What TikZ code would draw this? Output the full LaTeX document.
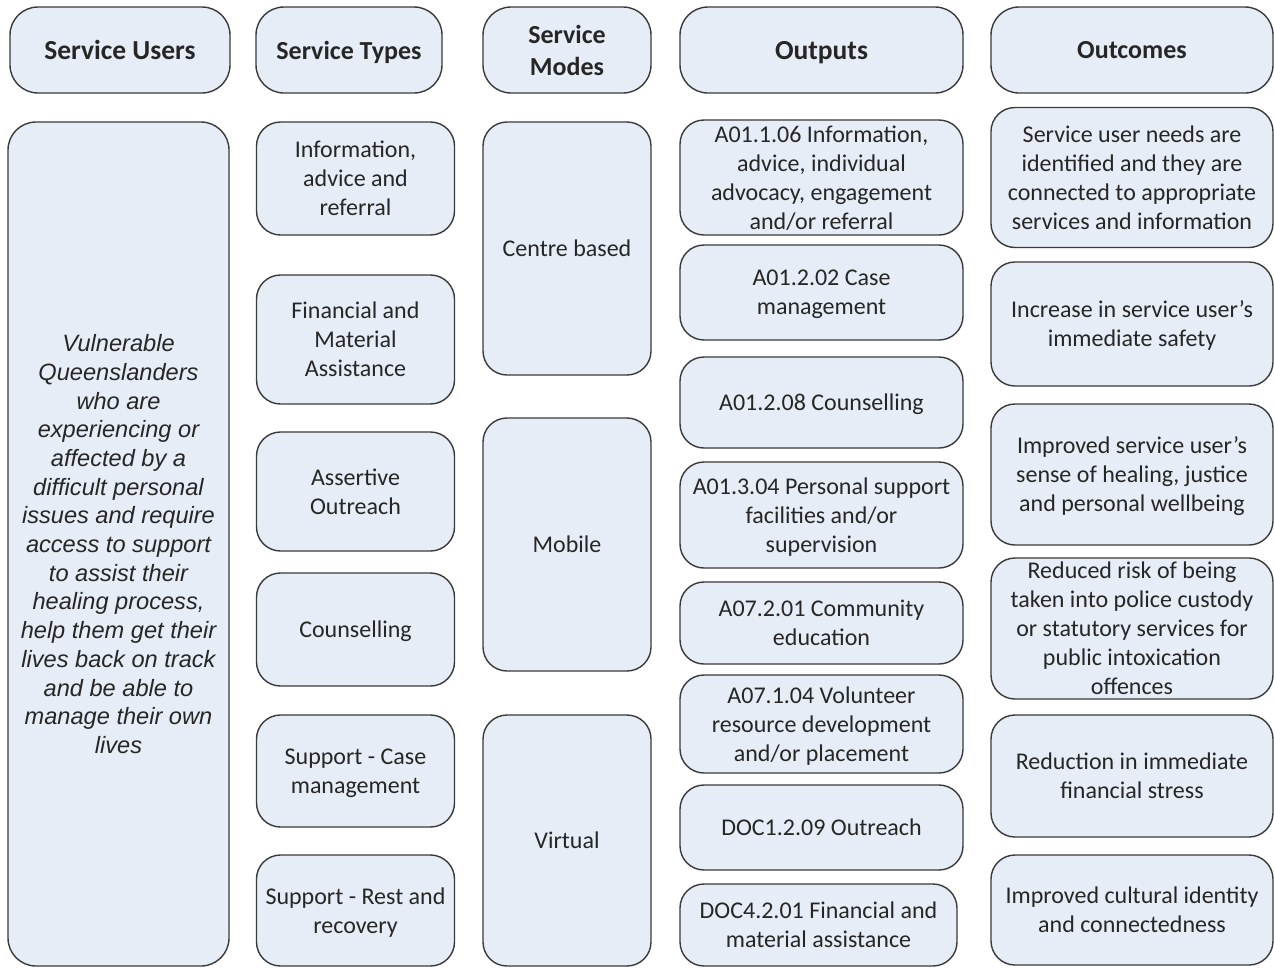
\documentclass[tikz,border=0pt]{standalone}
\usepackage{fontspec}
\setmainfont{Carlito}
\newfontfamily\arialfont{Liberation Sans}
\definecolor{boxfill}{RGB}{231,237,247}
\definecolor{boxline}{RGB}{58,58,58}
\definecolor{txt}{RGB}{38,38,38}
\begin{document}
\begin{tikzpicture}[x=1pt,y=-1pt,
  box/.style={draw=boxline, line width=1.4pt, fill=boxfill, rounded corners=24pt,
    align=center, text=txt, inner sep=0pt, text depth=0pt, font=\fontsize{24}{29}\selectfont},
  hbox/.style={box, rounded corners=28pt, font=\bfseries\fontsize{26}{32}\selectfont},
]
\useasboundingbox[fill=white] (0,0) rectangle (1274,967);
% headers
\node[hbox, minimum width=220, minimum height=86, font=\bfseries\fontsize{27.5}{32}\selectfont] (h1) at (120,50) {Service Users};
\node[hbox, minimum width=186, minimum height=86] (h2) at (349,50) {Service Types};
\node[hbox, minimum width=168, minimum height=86] (h3) at (567,50) {Service\\Modes};
\node[hbox, minimum width=283, minimum height=86, font=\bfseries\fontsize{27.5}{32}\selectfont] (h4) at (821.5,50) {Outputs};
\node[hbox, minimum width=282, minimum height=86] (h5) at (1132,50) {Outcomes};
% column 1
\node[box, rounded corners=28pt, minimum width=221, minimum height=844, font=\arialfont\itshape\fontsize{23.6}{28.7}\selectfont] (u1) at (118.5,544)
 {Vulnerable\\Queenslanders\\who are\\experiencing or\\affected by a\\difficult personal\\issues and require\\access to support\\to assist their\\healing process,\\help them get their\\lives back on track\\and be able to\\manage their own\\lives};
% column 2
\node[box, minimum width=198, minimum height=113] (t1) at (355.5,178.5) {Information,\\advice and\\referral};
\node[box, minimum width=198, minimum height=129] (t2) at (355.5,339.5) {Financial and\\Material\\Assistance};
\node[box, minimum width=198, minimum height=119] (t3) at (355.5,491.5) {Assertive\\Outreach};
\node[box, minimum width=198, minimum height=113] (t4) at (355.5,629.5) {Counselling};
\node[box, minimum width=198, minimum height=112] (t5) at (355.5,771) {Support - Case\\management};
\node[box, minimum width=198, minimum height=111] (t6) at (355.5,910.5) {Support - Rest and\\recovery};
% column 3
\node[box, minimum width=168, minimum height=253] (m1) at (567,248.5) {Centre based};
\node[box, minimum width=168, minimum height=253] (m2) at (567,544.5) {Mobile};
\node[box, minimum width=168, minimum height=251] (m3) at (567,840.5) {Virtual};
% column 4
\node[box, minimum width=283, minimum height=115] (o1) at (821.5,177.5) {A01.1.06 Information,\\advice, individual\\advocacy, engagement\\and/or referral};
\node[box, minimum width=283, minimum height=95] (o2) at (821.5,292.5) {A01.2.02 Case\\management};
\node[box, minimum width=283, minimum height=91] (o3) at (821.5,402.5) {A01.2.08 Counselling};
\node[box, minimum width=283, minimum height=106] (o4) at (821.5,515) {A01.3.04 Personal support\\facilities and/or\\supervision};
\node[box, minimum width=283, minimum height=82] (o5) at (821.5,623) {A07.2.01 Community\\education};
\node[box, minimum width=283, minimum height=98] (o6) at (821.5,724) {A07.1.04 Volunteer\\resource development\\and/or placement};
\node[box, minimum width=283, minimum height=85] (o7) at (821.5,827.5) {DOC1.2.09 Outreach};
\node[box, minimum width=277, minimum height=82] (o8) at (818.5,925) {DOC4.2.01 Financial and\\material assistance};
% column 5
\node[box, minimum width=282, minimum height=140] (c1) at (1132,177.5) {Service user needs are\\identified and they are\\connected to appropriate\\services and information};
\node[box, minimum width=282, minimum height=124] (c2) at (1132,324) {Increase in service user’s\\immediate safety};
\node[box, minimum width=282, minimum height=141] (c3) at (1132,474.5) {Improved service user’s\\sense of healing, justice\\and personal wellbeing};
\node[box, minimum width=282, minimum height=141] (c4) at (1132,628.5) {Reduced risk of being\\taken into police custody\\or statutory services for\\public intoxication\\offences};
\node[box, minimum width=282, minimum height=122] (c5) at (1132,776) {Reduction in immediate\\financial stress};
\node[box, minimum width=282, minimum height=110] (c6) at (1132,910) {Improved cultural identity\\and connectedness};
\end{tikzpicture}
\end{document}
